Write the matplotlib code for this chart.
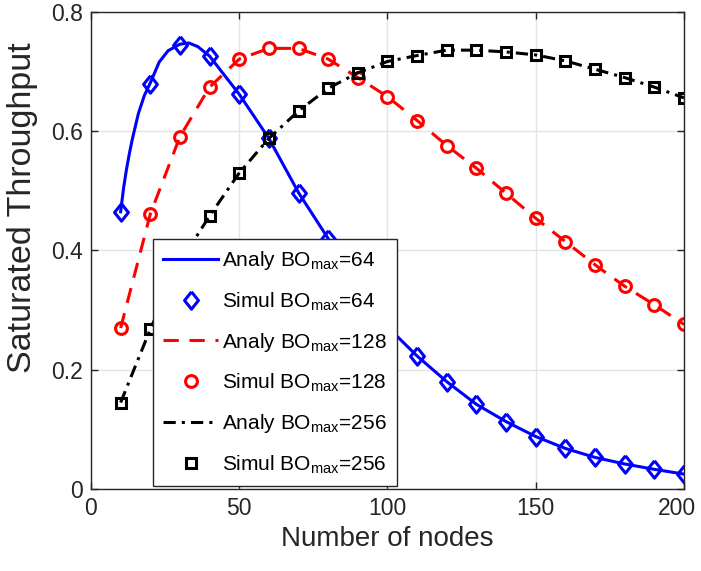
import numpy as np
import matplotlib.pyplot as plt
from matplotlib.transforms import ScaledTranslation

# simulation points (every 10 nodes)
nodes = [10, 20, 30, 40, 50, 60, 70, 80, 90, 100,
         110, 120, 130, 140, 150, 160, 170, 180, 190, 200]
sim_64 = [0.465, 0.680, 0.744, 0.726, 0.662, 0.588, 0.497, 0.420, 0.343, 0.272,
          0.223, 0.180, 0.142, 0.113, 0.088, 0.068, 0.053, 0.042, 0.033, 0.025]
sim_128 = [0.270, 0.461, 0.591, 0.674, 0.721, 0.739, 0.739, 0.721, 0.690, 0.658,
           0.618, 0.576, 0.538, 0.496, 0.454, 0.415, 0.376, 0.340, 0.309, 0.276]
sim_256 = [0.145, 0.268, 0.380, 0.458, 0.530, 0.588, 0.634, 0.672, 0.698, 0.717,
           0.727, 0.736, 0.736, 0.733, 0.728, 0.718, 0.704, 0.690, 0.674, 0.656]

# analytical curves
ana_nodes_64 = [10, 11, 12, 13, 14, 16, 18, 20, 23, 26, 30, 33, 36, 40, 50, 60, 70, 80,
                90, 100, 110, 120, 130, 140, 150, 160, 170, 180, 190, 200]
ana_64 = [0.465, 0.505, 0.537, 0.564, 0.588, 0.630, 0.660, 0.681, 0.716, 0.735,
          0.746, 0.748, 0.742, 0.726, 0.662, 0.588, 0.497, 0.420, 0.343, 0.272,
          0.223, 0.180, 0.142, 0.113, 0.088, 0.068, 0.053, 0.042, 0.033, 0.025]
ana_128 = sim_128
ana_256 = sim_256

font = ['Liberation Sans', 'DejaVu Sans']
diamond = [(0, 1), (0.8, 0), (0, -1), (-0.8, 0), (0, 1)]

fig = plt.figure(figsize=(7.01, 5.71), dpi=100)
ax = fig.add_axes([0.1298, 0.1436, 0.8459, 0.8354])

ax.plot(ana_nodes_64, ana_64, '-', color='#0000ff', lw=2.2,
        label='Analy BO$_{\\mathregular{max}}$=64')
ax.plot(nodes, sim_64, marker=diamond, color='#0000ff', ms=12.5, mew=2.2, mfc='none', ls='none',
        label='Simul BO$_{\\mathregular{max}}$=64')
ax.plot(nodes, ana_128, color='#ff0000', lw=2.2, dashes=(5, 3.5),
        label='Analy BO$_{\\mathregular{max}}$=128')
ax.plot(nodes, sim_128, 'o', color='#ff0000', ms=8.5, mew=2.2, mfc='none', ls='none',
        label='Simul BO$_{\\mathregular{max}}$=128')
ax.plot(nodes, ana_256, color='black', lw=2.2, dashes=(4, 2, 1, 2),
        label='Analy BO$_{\\mathregular{max}}$=256')
ax.plot(nodes, sim_256, 's', color='black', ms=7.5, mew=2.2, mfc='none', ls='none',
        label='Simul BO$_{\\mathregular{max}}$=256')

ax.set_xlim(0, 200)
ax.set_ylim(0, 0.8)
ax.set_xticks([0, 50, 100, 150, 200])
ax.set_yticks([0, 0.2, 0.4, 0.6, 0.8])
ax.set_yticklabels(['0', '0.2', '0.4', '0.6', '0.8'])
ax.grid(True, color='#e3e3e3', lw=1)
ax.set_axisbelow(True)
ax.tick_params(direction='in', top=True, right=True, length=5, width=1,
               colors='#262626', labelsize=16.5, pad=6)
for lab in ax.get_xticklabels() + ax.get_yticklabels():
    lab.set_family(font)
# last x label sits a little inside the figure edge, as in the original
last = ax.get_xticklabels()[-1]
last.set_transform(last.get_transform() + ScaledTranslation(-7 / 100, 0, fig.dpi_scale_trans))
for sp in ax.spines.values():
    sp.set_color('#262626')
    sp.set_linewidth(1)

ax.set_xlabel('Number of nodes', family=font, fontsize=20, color='#262626', labelpad=4)
ax.set_ylabel('Saturated Throughput', family=font, fontsize=24.5, color='#262626')
ax.yaxis.set_label_coords(-0.089, 0.59)

leg = ax.legend(loc='lower left', bbox_to_anchor=(0.1046, 0.0063),
                prop={'family': font, 'size': 15}, frameon=True, fancybox=False,
                edgecolor='#262626', framealpha=1, handlelength=2.6,
                handletextpad=0.2, labelspacing=0.86, borderpad=0.5,
                borderaxespad=0)
leg.get_frame().set_linewidth(1)

plt.savefig('out.png', dpi=100)
